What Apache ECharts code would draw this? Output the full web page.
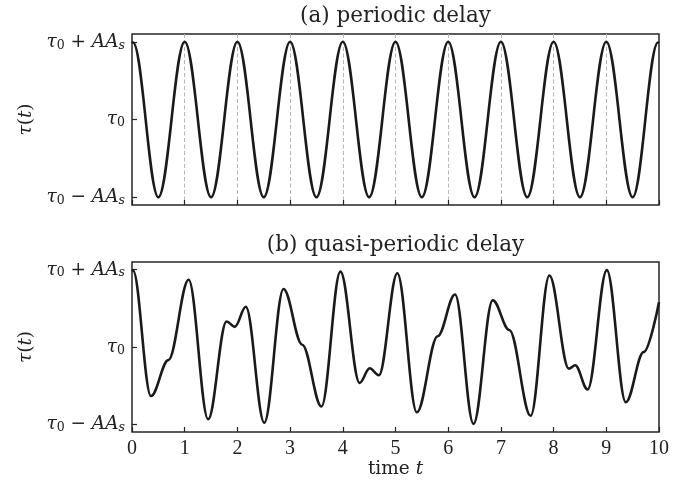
<!DOCTYPE html>
<html>
<head>
<meta charset="utf-8">
<script src="https://cdn.jsdelivr.net/npm/echarts@6/dist/echarts.min.js"></script>
<style>
html, body { margin: 0; padding: 0; background: #ffffff; }
#chart { width: 690px; height: 483px; }
</style>
</head>
<body>
<div id="chart"></div>
<script>
// ---- data ----
// (a) periodic delay: extrema of the curve (value in units of A*A_s around tau_0)
const periodicT = [0, 0.02, 0.5, 1, 1.5, 2, 2.5, 3, 3.5, 4, 4.5, 5, 5.5, 6, 6.5, 7, 7.5, 8, 8.5, 9, 9.5, 9.98, 10];
const periodicV = [1, 0.99, -1, 1, -1, 1, -1, 1, -1, 1, -1, 1, -1, 1, -1, 1, -1, 1, -1, 1, -1, 0.99, 1];

// (b) quasi-periodic delay: extrema and shoulders of the curve
const quasiT = [0, 0.02, 0.36, 0.69, 1.075, 1.445, 1.795, 1.95, 2.16, 2.51, 2.875, 3.23, 3.595, 3.955, 4.32, 4.51, 4.685, 5.035, 5.405, 5.80, 6.13, 6.48, 6.845, 7.16, 7.565, 7.92, 8.29, 8.41, 8.645, 9.01, 9.37, 9.71, 10];
const quasiV = [1, 0.99, -0.635, -0.17, 0.87, -0.935, 0.33, 0.26, 0.52, -0.98, 0.75, 0.03, -0.77, 0.975, -0.465, -0.275, -0.365, 0.955, -0.845, 0.14, 0.68, -0.995, 0.605, 0.22, -0.89, 0.925, -0.28, -0.237, -0.55, 0.995, -0.715, -0.065, 0.58];

// tick values / labels
const xTicks = [0, 1, 2, 3, 4, 5, 6, 7, 8, 9, 10];
const yTickValues = [-1, 0, 1];
const yTickLabels = ['{i|τ}{s|0}{n| − }{i|AA}{si|s}', '{i|τ}{s|0}', '{i|τ}{s|0}{n| + }{i|AA}{si|s}'];
const titles = ['(a) periodic delay', '(b) quasi-periodic delay'];
const xName = 'time {i|t}';
const yName = '{i|τ}{n|(}{i|t}{n|)}';

// ---- styling ----
const serif = 'DejaVu Serif';
const ink = '#222222';
const frame = '#262626';
const rich = {
  n: { fontFamily: serif, fontSize: 18.5, color: ink, lineHeight: 20 },
  i: { fontFamily: serif, fontSize: 18.5, fontStyle: 'italic', color: ink, lineHeight: 20 },
  s: { fontFamily: serif, fontSize: 12.5, color: ink, lineHeight: 12, verticalAlign: 'bottom' },
  si: { fontFamily: serif, fontSize: 12.5, fontStyle: 'italic', color: ink, lineHeight: 12, verticalAlign: 'bottom' }
};

function pairs(ts, vs) { return ts.map((t, k) => [t, vs[k]]); }

function xAxisFor(idx, showLabels) {
  return {
    gridIndex: idx, type: 'value', min: xTicks[0], max: xTicks[xTicks.length - 1], interval: 1,
    axisLine: { show: false, onZero: false },
    axisTick: { show: true, inside: true, length: 5, lineStyle: { color: frame, width: 1.2 } },
    axisLabel: {
      show: showLabels, margin: 7, fontFamily: 'Liberation Serif', fontSize: 20, color: ink
    },
    splitLine: { show: !showLabels, showMinLine: false, showMaxLine: false, lineStyle: { color: '#b5b5b5', width: 1, type: [4, 2.5] } },
    name: showLabels ? xName : '',
    nameLocation: 'middle', nameGap: 26,
    nameTextStyle: { fontFamily: serif, fontSize: 18.5, color: ink, rich: rich }
  };
}
function yAxisFor(idx) {
  return {
    gridIndex: idx, type: 'value', min: -1.1, max: 1.1,
    axisLine: { show: false, onZero: false },
    axisTick: { show: true, inside: true, length: 5, customValues: yTickValues, lineStyle: { color: frame, width: 1.2 } },
    axisLabel: {
      show: true, margin: 7, customValues: yTickValues,
      formatter: function (v) { return yTickLabels[yTickValues.indexOf(Math.round(v))]; },
      rich: rich
    },
    splitLine: { show: false },
    name: yName, nameLocation: 'middle', nameRotate: 90, nameGap: 95,
    nameTextStyle: { rich: rich }
  };
}
function seriesFor(idx, ts, vs) {
  return {
    type: 'line', xAxisIndex: idx, yAxisIndex: idx,
    data: pairs(ts, vs), smooth: 0.36, smoothMonotone: 'x',
    symbol: 'none', clip: true,
    lineStyle: { color: '#1a1a1a', width: 2.6 }
  };
}

const chart = echarts.init(document.getElementById('chart'), null, { renderer: 'canvas' });
chart.setOption({
  animation: false,
  backgroundColor: '#ffffff',
  grid: [
    { left: 132, right: 31, top: 34, height: 171, show: true, borderColor: frame, borderWidth: 1.5, backgroundColor: 'transparent' },
    { left: 132, right: 31, top: 262, height: 170, show: true, borderColor: frame, borderWidth: 1.5, backgroundColor: 'transparent' }
  ],
  xAxis: [xAxisFor(0, false), xAxisFor(1, true)],
  yAxis: [yAxisFor(0), yAxisFor(1)],
  series: [seriesFor(0, periodicT, periodicV), seriesFor(1, quasiT, quasiV)],
  graphic: [
    { type: 'text', x: 395.5, y: 16, style: { text: titles[0], font: '21.5px "DejaVu Serif"', fill: ink, align: 'center', verticalAlign: 'middle' } },
    { type: 'text', x: 395.5, y: 245, style: { text: titles[1], font: '21.5px "DejaVu Serif"', fill: ink, align: 'center', verticalAlign: 'middle' } }
  ]
});
</script>
</body>
</html>
